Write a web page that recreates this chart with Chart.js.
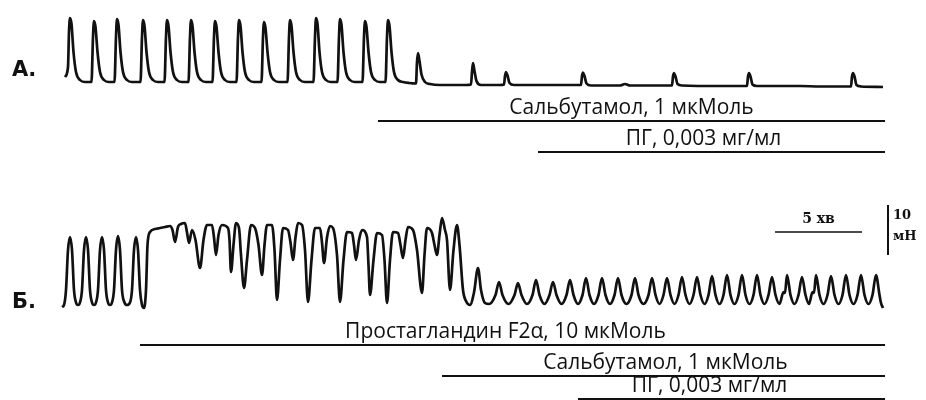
<!DOCTYPE html>
<html>
<head>
    <title>Скорочення міометрію</title>
    <script src="https://cdn.jsdelivr.net/npm/chart.js@4.4.0/dist/chart.umd.min.js"></script>
    <style>
        body { margin: 0; background: #fff; }
    </style>
</head>
<body>
    <canvas id="chartCanvas" width="926" height="400"></canvas>

    <script>
        // Запис А: [час, сила мН відносно базової лінії]
        const traceA = [
            [65, 1.0], [68, 3], [69, 10], [70, 12.8], [71.5, 11.6], [73.5, 6], [76, 2], [80, 0.4], [85, 0],
            [91.5, 0], [93, 9], [94, 12.2], [95.5, 11.0], [97.5, 6], [100, 2], [104, 0.4], [109, 0],
            [114.5, 0], [116, 9], [117, 12.6], [118.5, 11.4], [120.5, 6], [123, 2], [127, 0.4], [132, 0],
            [140.5, 0], [142, 9], [143, 12.4], [144.5, 11.2], [146.5, 6], [149, 2], [153, 0.4], [158, 0],
            [164.5, 0], [166, 9], [167, 12.4], [168.5, 11.2], [170.5, 6], [173, 2], [177, 0.4], [182, 0],
            [188.5, 0], [190, 9], [191, 12.4], [192.5, 11.2], [194.5, 6], [197, 2], [201, 0.4], [206, 0],
            [212.5, 0], [214, 9], [215, 12.2], [216.5, 11.0], [218.5, 6], [221, 2], [225, 0.4], [230, 0],
            [236.5, 0], [238, 9], [239, 12.4], [240.5, 11.2], [242.5, 6], [245, 2], [249, 0.4], [254, 0],
            [261.5, 0], [263, 9], [264, 12.0], [265.5, 10.8], [267.5, 6], [270, 2], [274, 0.4], [279, 0],
            [287.5, 0], [289, 9], [290, 12.4], [291.5, 11.2], [293.5, 6], [296, 2], [300, 0.4], [305, 0],
            [313.5, 0], [315, 9], [316, 12.8], [317.5, 11.6], [319.5, 6], [322, 2], [326, 0.4], [331, 0],
            [337.5, 0], [339, 9], [340, 12.6], [341.5, 11.4], [343.5, 6], [346, 2], [350, 0.4], [355, 0],
            [362.5, 0], [364, 9], [365, 12.2], [366.5, 11.0], [368.5, 6], [371, 2], [375, 0.4], [380, 0],
            [385.5, 0], [387, 9], [388, 12.4], [389.5, 11.2], [391.5, 6], [394, 2], [398, 0.4], [403, 0],
            [409, -0.2], [416, -0.3], [417, 4], [418, 5.8], [419.5, 4.2], [421.5, 1.5], [425, 0], [430, -0.4], [440, -0.6],
            [466, -0.6], [471, -0.5], [472, 2], [473, 3.8], [474.5, 2.2], [476.5, 0.2], [481, -0.6],
            [500, -0.6], [504, -0.5], [505, 1.2], [506, 2.0], [507.5, 1.3], [509.5, -0.2], [514, -0.6],
            [560, -0.6], [581, -0.6], [582, 1.2], [583, 1.9], [584.5, 1.2], [586.5, -0.3], [591, -0.7],
            [620, -0.7], [625, -0.4], [630, -0.7],
            [672, -0.7], [673, 1.1], [674, 1.8], [675.5, 1.1], [677.5, -0.4], [682, -0.7],
            [720, -0.8], [747, -0.8], [748, 1.1], [749, 1.8], [750.5, 1.1], [752.5, -0.5], [757, -0.8],
            [800, -0.8], [820, -0.9], [851, -0.9], [852, 1.1], [853, 1.8], [854.5, 1.1], [856.5, -0.6], [861, -0.9],
            [883, -1.0]
        ];

        // Запис Б: [час, сила мН відносно базової лінії]
        const traceB = [
            [62, -0.4], [64, 0], [66, 3], [68, 11], [70, 13.6], [72, 11], [74, 3], [76, 0.5], [78, 0],
            [80, 0.5], [82, 3], [84, 11], [86, 13.6], [88, 11], [90, 3], [92, 0.5], [94, 0],
            [96, 0.5], [98, 3], [100, 11], [102, 13.6], [104, 11], [106, 3], [108, 0.5], [110, 0],
            [112, 0.5], [114, 3], [116, 11], [118, 13.8], [120, 11], [122, 3], [124.5, 0.5], [127, 0],
            [130, 0.5], [132, 3], [134, 11], [136, 13.6], [138, 11], [140, 3], [142, 0], [144, -0.6],
            [146, 3], [147.5, 12], [150, 14.6], [155, 15.2], [160, 15.4], [165, 15.6], [170, 15.8],
            [172.5, 15], [175, 12.6], [178, 15.6], [181, 16.2], [185, 16.4], [187, 14.5], [189, 12.4],
            [192, 15], [195.5, 13], [200, 7.4], [203.5, 13], [207, 16], [212, 16], [214, 13.5],
            [216, 10], [218.5, 14], [222, 16], [228, 15.4], [229.5, 13], [231, 6.6], [233.5, 12],
            [236, 16.4], [239, 15.4], [241, 10], [244, 3.4], [247, 9], [251, 16], [255, 15.4],
            [258.5, 12], [262, 6], [264.5, 12], [267, 16], [272, 16], [274.5, 11], [277, 1],
            [280, 9], [283, 15.4], [288, 15], [290.5, 12.5], [293, 9], [295.5, 13.5], [298, 16.4],
            [302, 16], [305, 11], [308, 0.6], [311.5, 9], [315, 15.4], [320, 15.4], [322, 12.5],
            [324, 8.4], [327, 13.5], [330, 15.8], [333, 15.4], [337, 10], [340, 0.6], [343.5, 9],
            [347, 14.6], [352, 14.4], [354, 12], [356, 9], [359, 13], [362, 15], [367, 13.6],
            [368.5, 8], [370, 2], [373.5, 9], [377, 14.4], [382, 14], [384.5, 9], [387, 0.4],
            [390, 9], [393, 14.6], [398, 14.4], [400.5, 12], [403, 9.4], [405.5, 13], [408, 15.6],
            [413, 15], [417, 11], [422, 2.4], [424.5, 10], [427, 15.4], [432, 14.4], [434.5, 12],
            [437, 10], [439.5, 14], [442, 17.4], [445, 15], [447, 13], [450, 3], [453.5, 11],
            [457, 16], [459.5, 12], [463, 3], [466, 0.8], [470, 0],
            [474, 2.5], [478, 7.4], [481, 3], [485, 0.4], [489, 0.2],
            [495.5, 2], [499, 4.6], [502.5, 2], [508.5, 0.2],
            [514.5, 2], [518, 4.4], [521.5, 2], [527, 0.2],
            [532.5, 2], [536, 5.0], [539.5, 2], [544.5, 0.2],
            [549.5, 2], [553, 4.6], [556.5, 2], [561.5, 0.2],
            [566.5, 2], [570, 5.0], [573.5, 2], [578, 0.2],
            [582.5, 2], [586, 5.4], [589.5, 2], [594, 0.2],
            [598.5, 2], [602, 5.4], [605.5, 2], [610, 0.2],
            [614.5, 2], [618, 5.4], [621.5, 2], [626.5, 0.2],
            [631.5, 2], [635, 5.4], [638.5, 2], [643.5, 0.2],
            [648.5, 2], [652, 5.4], [655.5, 2], [659.5, 0.2],
            [663.5, 2], [667, 5.4], [670.5, 2], [674.5, 0.2],
            [678.5, 2], [682, 5.6], [685.5, 2], [689.5, 0.2],
            [693.5, 2], [697, 5.6], [700.5, 2], [704.5, 0.2],
            [708.5, 2], [712, 5.8], [715.5, 2], [719.5, 0.2],
            [723.5, 2], [727, 6.0], [730.5, 2], [734.5, 0.2],
            [738.5, 2], [742, 6.0], [745.5, 2], [749.5, 0.2],
            [753.5, 2], [757, 6.0], [760.5, 2], [764.5, 0.2],
            [768.5, 2], [772, 5.6], [775.5, 2], [779.5, 0.2],
            [783.5, 2.6], [785, 2.4], [787, 6.0], [790.5, 2], [794.5, 0.2],
            [798.5, 2], [802, 5.6], [805.5, 2], [809, 0.2],
            [812.5, 2.6], [814, 2.4], [816, 6.0], [819.5, 2], [823.5, 0.2],
            [827.5, 2], [831, 5.8], [834.5, 2], [838.5, 0.2],
            [842.5, 2], [846, 6.0], [849.5, 2], [853.5, 0.2],
            [857.5, 2], [861, 6.0], [864.5, 2], [868.5, 0.2],
            [872.5, 2], [876, 6.0], [879.5, 2], [881, 0.4], [883, -0.6]
        ];

        // Препарати: назва та час початку; всі діють до кінця запису
        const aDrugLabels = ["Сальбутамол, 1 мкМоль", "ПГ, 0,003 мг/мл"];
        const aDrugStart = [378, 538];
        const bDrugLabels = ["Простагландин F2α, 10 мкМоль", "Сальбутамол, 1 мкМоль", "ПГ, 0,003 мг/мл"];
        const bDrugStart = [140, 442, 578];
        const recordEnd = 885;

        // Калібрування: 5 хв та 10 мН
        const timeBar = [775, 862];
        const forceBar = 10;

        // Розміщення на полотні (в одиницях осі y)
        const offsetA = 63.6;
        const offsetB = 19;
        const aDrugLevel = [55.8, 49.6];
        const bDrugLevel = [11, 4.8, 0.2];
        const aLabelShift = [0, -8];
        const bLabelShift = [-7, 2, -22];
        const timeBarLevel = 33.6;
        const forceBarX = 888;
        const forceBarBottom = 29;

        const ink = '#111';

        const datasets = [
            {
                label: 'А',
                data: traceA.map(([t, f]) => ({ x: t, y: f + offsetA })),
                borderWidth: 2.7
            },
            {
                label: 'Б',
                data: traceB.map(([t, f]) => ({ x: t, y: f + offsetB })),
                borderWidth: 2.7
            }
        ];

        aDrugLabels.forEach((name, i) => {
            datasets.push({
                label: name,
                data: [{ x: aDrugStart[i], y: aDrugLevel[i] }, { x: recordEnd, y: aDrugLevel[i] }],
                borderWidth: 2,
                labelShift: aLabelShift[i]
            });
        });
        bDrugLabels.forEach((name, i) => {
            datasets.push({
                label: name,
                data: [{ x: bDrugStart[i], y: bDrugLevel[i] }, { x: recordEnd, y: bDrugLevel[i] }],
                borderWidth: 2,
                labelShift: bLabelShift[i]
            });
        });
        datasets.push({
            label: '5 хв',
            data: [{ x: timeBar[0], y: timeBarLevel }, { x: timeBar[1], y: timeBarLevel }],
            borderWidth: 1.5
        });
        datasets.push({
            label: '10 мН',
            data: [{ x: forceBarX, y: forceBarBottom }, { x: forceBarX, y: forceBarBottom + forceBar }],
            borderWidth: 2
        });

        datasets.forEach(ds => {
            ds.borderColor = ink;
            ds.pointRadius = 0;
            ds.fill = false;
            ds.clip = false;
            ds.cubicInterpolationMode = 'monotone';
        });

        // Підписи поверх графіка
        const labelsPlugin = {
            id: 'labels',
            afterDatasetsDraw(chart) {
                const ctx = chart.ctx;
                const x = chart.scales.x;
                const y = chart.scales.y;
                ctx.save();
                ctx.fillStyle = ink;

                ctx.font = 'bold 21px "DejaVu Sans"';
                ctx.textAlign = 'left';
                ctx.textBaseline = 'middle';
                ctx.fillText('А.', 12, y.getPixelForValue(offsetA) - 11);
                ctx.fillText('Б.', 12, y.getPixelForValue(offsetB) - 2);

                ctx.font = '21px "Open Sans"';
                ctx.textAlign = 'center';
                chart.data.datasets.forEach(ds => {
                    if (ds.labelShift === undefined) return;
                    const p0 = ds.data[0], p1 = ds.data[1];
                    const cx = (x.getPixelForValue(p0.x) + x.getPixelForValue(p1.x)) / 2 + ds.labelShift;
                    ctx.fillText(ds.label, cx, y.getPixelForValue(p0.y) - 13);
                });

                ctx.font = 'bold 14px "DejaVu Serif"';
                ctx.fillText('5 хв', (x.getPixelForValue(timeBar[0]) + x.getPixelForValue(timeBar[1])) / 2,
                    y.getPixelForValue(timeBarLevel) - 13);
                ctx.font = 'bold 13px "DejaVu Serif"';
                ctx.textAlign = 'left';
                ctx.fillText('10', x.getPixelForValue(forceBarX) + 5, y.getPixelForValue(forceBarBottom + forceBar) + 11);
                ctx.fillText('мН', x.getPixelForValue(forceBarX) + 5, y.getPixelForValue(forceBarBottom + forceBar) + 32);
                ctx.restore();
            }
        };

        const ctx = document.getElementById('chartCanvas').getContext('2d');
        const chart = new Chart(ctx, {
            type: 'line',
            data: { datasets: datasets },
            options: {
                responsive: false,
                animation: false,
                layout: { padding: 0 },
                scales: {
                    x: { type: 'linear', min: 0, max: 926, display: false },
                    y: { type: 'linear', min: 0, max: 80, display: false }
                },
                plugins: {
                    legend: { display: false },
                    tooltip: { enabled: false }
                }
            },
            plugins: [labelsPlugin]
        });
    </script>
</body>
</html>
